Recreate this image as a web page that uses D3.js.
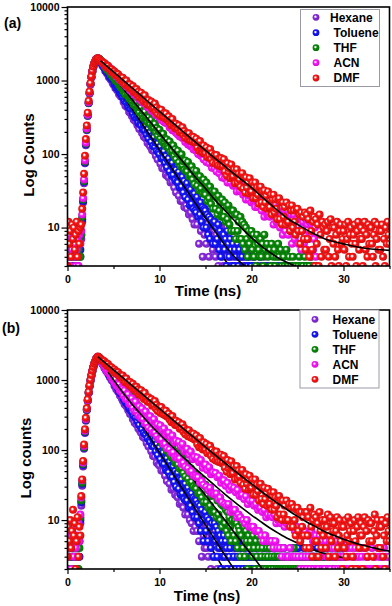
<!DOCTYPE html>
<html>
<head>
<meta charset="utf-8">
<script src="https://cdnjs.cloudflare.com/ajax/libs/d3/7.8.5/d3.min.js"></script>
<style>
  body { margin: 0; background: #fff; }
  svg { display: block; font-family: "Liberation Sans", Arial, sans-serif; font-weight: bold; }
</style>
</head>
<body>
<div id="wrapper"></div>
<script>
// TCSPC decays: one count per channel, channels start at t = 0
const channelNs = 0.1;

const solvents = ["Hexane", "Toluene", "THF", "ACN", "DMF"];
const solventColors = ["#8a2be2", "#1414ff", "#088a08", "#ff14ff", "#ff1414"];
const timeTicks = [0, 10, 20, 30];
const timeMinorTicks = [5, 15, 25, 35];
const countTicks = [10, 100, 1000, 10000];

// ---- panel (a) counts ----
const hexaneA = [
4, 2, 6, 3, 5, 2, 7, 3, 4, 5,
3, 6, 2, 5, 4, 7, 12, 22, 40, 75,
132, 210, 330, 490, 665, 880, 1105, 1320, 1515, 1680,
1785, 1912, 1948, 1990, 1932, 1879, 1751, 1712, 1590, 1561,
1519, 1352, 1398, 1245, 1248, 1110, 1148, 1033, 1057, 931,
881, 938, 794, 846, 738, 785, 652, 696, 607, 647,
629, 512, 562, 455, 526, 433, 458, 374, 429, 356,
329, 384, 293, 343, 280, 325, 247, 280, 219, 263,
258, 194, 229, 172, 216, 164, 184, 141, 175, 134,
127, 158, 113, 139, 109, 133, 95, 118, 84, 105,
107, 74, 94, 64, 91, 63, 76, 52, 76, 50,
48, 68, 41, 59, 42, 58, 35, 50, 30, 44,
46, 27, 40, 23, 38, 23, 31, 19, 33, 20,
18, 29, 15, 26, 16, 25, 13, 22, 11, 19,
19, 11, 17, 6, 16, 9, 14, 4, 13, 8,
13, 6, 11, 8, 4, 10, 7, 12, 5, 6,
9, 4, 8, 6, 3, 7, 5, 10, 4, 3,
6, 3, 5, 4, 2, 7, 3, 4, 1, 5,
4, 2, 3, 5, 1, 3, 4, 2, 6, 3,
3, 1, 4, 2, 3, 2, 5, 1, 3, 2,
2, 3, 1, 4, 2, 1, 3, 2, 2, 1,
3, 1, 2, 2, 4, 1, 2, 3, 1, 2,
1, 2, 3, 1, 2, 2, 1, 3, 2, 1,
2, 1, 1, 3, 2, 1, 2, 1, 3, 2,
1, 3, 2, 1, 1, 2, 3, 1, 2, 1,
2, 1, 2, 3, 1, 1, 2, 2, 1, 3,
1, 2, 1, 2, 3, 1, 1, 2, 2, 1,
2];
const tolueneA = [
3, 6, 2, 5, 4, 7, 3, 5, 2, 6,
4, 3, 7, 2, 5, 8, 13, 23, 42, 77,
136, 215, 335, 495, 672, 890, 1110, 1330, 1525, 1690,
1795, 1928, 1962, 2008, 1968, 1911, 1798, 1754, 1648, 1609,
1479, 1504, 1342, 1393, 1255, 1264, 1128, 1146, 1045, 1072,
1036, 898, 959, 805, 862, 762, 813, 683, 732, 634,
594, 661, 533, 595, 505, 560, 443, 495, 415, 462,
451, 356, 406, 319, 383, 306, 335, 265, 315, 255,
244, 288, 216, 251, 209, 244, 183, 216, 163, 190,
198, 146, 175, 129, 169, 125, 143, 110, 139, 106,
100, 126, 87, 110, 88, 109, 76, 94, 66, 83,
87, 58, 76, 51, 76, 52, 62, 44, 61, 42,
41, 57, 35, 49, 36, 49, 30, 43, 26, 37,
40, 24, 34, 20, 33, 21, 27, 18, 29, 17,
16, 26, 14, 22, 15, 22, 12, 19, 10, 18,
17, 10, 15, 8, 14, 7, 13, 11, 6, 12,
12, 6, 10, 7, 11, 5, 9, 4, 8, 6,
8, 5, 7, 3, 9, 6, 4, 7, 5, 3,
6, 3, 5, 4, 2, 6, 3, 5, 4, 2,
4, 2, 5, 3, 1, 4, 3, 2, 4, 3,
3, 2, 4, 1, 3, 2, 3, 1, 2, 4,
2, 1, 3, 2, 1, 3, 2, 2, 1, 3,
1, 2, 2, 3, 1, 2, 1, 3, 2, 1,
2, 3, 1, 2, 2, 1, 3, 1, 2, 2,
1, 2, 2, 1, 3, 2, 1, 2, 1, 3,
2, 1, 3, 2, 1, 2, 2, 1, 3, 1,
1, 2, 1, 3, 2, 1, 2, 2, 1, 2,
1];
const thfA = [
5, 3, 7, 4, 2, 6, 4, 8, 3, 5,
6, 2, 5, 7, 4, 8, 14, 24, 43, 79,
139, 218, 338, 498, 676, 895, 1115, 1335, 1530, 1695,
1801, 1925, 1970, 2011, 1985, 1944, 1850, 1812, 1718, 1690,
1664, 1512, 1534, 1393, 1457, 1324, 1317, 1208, 1250, 1137,
1087, 1147, 1001, 1058, 952, 1004, 868, 908, 800, 862,
847, 711, 766, 647, 741, 629, 652, 568, 631, 540,
522, 583, 470, 523, 462, 510, 412, 449, 371, 430,
428, 345, 384, 308, 377, 309, 320, 270, 315, 262,
254, 292, 226, 255, 228, 258, 198, 226, 178, 204,
214, 163, 190, 146, 189, 146, 161, 128, 158, 128,
121, 148, 108, 131, 110, 131, 95, 116, 85, 103,
111, 77, 97, 68, 99, 70, 80, 61, 82, 59,
58, 78, 50, 67, 52, 68, 45, 60, 39, 53,
59, 37, 50, 32, 50, 34, 41, 29, 45, 29,
28, 41, 23, 35, 25, 36, 21, 31, 18, 30,
31, 18, 26, 15, 27, 17, 22, 14, 24, 14,
14, 22, 12, 19, 13, 20, 11, 17, 9, 17,
17, 9, 15, 7, 15, 9, 12, 7, 14, 7,
12, 6, 11, 5, 10, 7, 4, 9, 6, 8,
9, 5, 8, 4, 7, 3, 8, 6, 5, 4,
7, 4, 6, 3, 8, 5, 2, 6, 4, 5,
5, 3, 6, 2, 4, 5, 3, 4, 2, 6,
4, 2, 5, 3, 1, 4, 3, 2, 5, 3,
3, 4, 2, 3, 1, 4, 2, 3, 3, 2,
2, 3, 4, 1, 3, 2, 3, 2, 4, 1,
3, 2, 1, 3, 2, 4, 2, 1, 3, 2,
3];
const acnA = [
6, 4, 8, 3, 7, 5, 9, 4, 6, 3,
5, 7, 3, 8, 6, 9, 15, 25, 45, 82,
142, 222, 342, 505, 682, 900, 1120, 1340, 1535, 1700,
1806, 1930, 1968, 2007, 1950, 1898, 1850, 1812, 1752, 1712,
1623, 1679, 1525, 1579, 1463, 1529, 1403, 1410, 1306, 1365,
1344, 1209, 1264, 1135, 1223, 1101, 1128, 1013, 1092, 982,
937, 1021, 881, 960, 827, 929, 811, 857, 738, 822,
809, 690, 775, 641, 715, 629, 705, 571, 639, 555,
536, 603, 497, 584, 489, 533, 444, 522, 431, 477,
469, 390, 459, 379, 386, 416, 339, 399, 337, 343,
313, 357, 291, 313, 327, 272, 317, 264, 266, 285,
283, 230, 240, 265, 211, 244, 208, 242, 195, 203,
185, 212, 173, 186, 201, 165, 167, 183, 146, 162,
168, 135, 146, 161, 128, 131, 146, 115, 131, 115,
111, 130, 100, 113, 118, 95, 101, 113, 85, 99,
105, 78, 90, 100, 75, 86, 88, 65, 74, 84,
64, 81, 58, 70, 78, 55, 62, 68, 48, 61,
66, 47, 55, 64, 41, 49, 55, 41, 49, 54,
37, 50, 38, 51, 31, 42, 46, 32, 36, 44,
40, 28, 33, 42, 24, 32, 37, 24, 27, 36,
22, 30, 23, 33, 19, 25, 31, 19, 22, 27,
27, 17, 20, 27, 14, 21, 24, 15, 16, 24,
14, 20, 15, 22, 11, 16, 21, 12, 14, 18,
19, 10, 14, 19, 8, 14, 17, 9, 11, 17,
8, 15, 10, 15, 6, 11, 15, 7, 9, 13,
13, 6, 9, 14, 5, 10, 12, 6, 8, 13,
5, 11, 7, 12, 4, 8, 11, 5, 7, 10,
4];
const dmfA = [
3, 12, 6, 9, 4, 11, 7, 10, 5, 8,
12, 4, 9, 6, 10, 11, 18, 30, 54, 95,
160, 245, 365, 530, 710, 925, 1140, 1355, 1550, 1710,
1812, 1936, 1971, 2015, 1970, 1893, 1872, 1800, 1781, 1710,
1732, 1592, 1632, 1499, 1583, 1455, 1462, 1356, 1418, 1304,
1272, 1330, 1186, 1254, 1163, 1216, 1084, 1123, 1020, 1090,
1094, 937, 1002, 873, 999, 867, 889, 799, 887, 776,
757, 840, 698, 762, 700, 767, 639, 704, 594, 650,
684, 565, 616, 514, 631, 527, 540, 470, 545, 467,
461, 517, 416, 465, 427, 485, 380, 428, 350, 396,
402, 329, 401, 341, 316, 362, 306, 356, 295, 300,
326, 269, 293, 245, 300, 251, 258, 224, 259, 223,
220, 246, 198, 221, 204, 232, 182, 205, 167, 189,
192, 158, 192, 164, 151, 173, 147, 171, 142, 144,
162, 122, 145, 111, 150, 117, 127, 103, 131, 104,
103, 123, 91, 110, 96, 117, 85, 102, 76, 93,
97, 73, 97, 76, 70, 87, 68, 88, 67, 69,
85, 58, 73, 51, 75, 57, 64, 47, 72, 50,
50, 62, 40, 56, 62, 41, 54, 45, 36, 53,
55, 34, 47, 30, 48, 35, 41, 29, 47, 31,
31, 41, 25, 36, 41, 25, 35, 28, 21, 35,
36, 22, 31, 19, 32, 22, 27, 18, 31, 19,
19, 28, 15, 24, 28, 16, 24, 18, 13, 24,
25, 13, 22, 11, 22, 14, 19, 11, 22, 12,
12, 20, 9, 17, 20, 10, 17, 12, 8, 17,
18, 9, 15, 6, 16, 9, 14, 7, 16, 5,
15, 7, 13, 4, 17, 9, 5, 12, 14, 3,
13, 6, 11, 3, 15, 8, 4, 12, 10, 5,
11, 5, 9, 12, 4, 7, 13, 3, 10, 6,
10, 4, 8, 12, 5, 3, 9, 11, 6, 7,
9, 5, 11, 3, 7, 12, 4, 8, 10, 6,
4, 8, 11, 6, 3, 9, 12, 5, 7, 10,
7, 3, 9, 12, 5, 8, 4, 11, 6, 10,
10, 6, 4, 8, 12, 3, 7, 11, 5, 9,
5, 9, 11, 4, 7, 3, 10, 6, 12, 8,
6];

// ---- panel (a) fitted decays [t, counts] ----
const hexaneFitA = [[3.6,1780],[5,930],[6,585],[7,367],[8,232],[9,146],[10,92],[11,58],[12,36],[13,23],[14,14.5],[15,9],[16,5.8],[17,3.8],[18,2.6]];
const tolueneFitA = [[3.6,1810],[5,990],[6,640],[7,415],[8,270],[9,176],[10,114],[11,74],[12,48],[13,31.5],[14,20.5],[15,13.5],[16,9],[17,6],[18,4.2],[19,3.2],[20,2.6]];
const thfFitA = [[3.6,1868],[5,1132],[6,792],[7,555],[8,389],[9,273],[10,191],[11,135],[12,95],[13,67],[14,47],[15,34],[16,24],[17,17.6],[18,13],[19,9.6],[20,7.3],[21,5.7],[22,4.6],[23,3.8],[24,3.3],[25,2.9]];
const acnFitA = [[3.6,1860],[5,1292],[6,997],[7,770],[8,595],[9,460],[10,356],[11,275],[12,213],[13,166]];
const dmfFitA = [[3.6,1860],[4,1683],[5,1312],[6,1022],[7,797],[8,622],[9,486],[10,379],[11,296],[12,232],[13,181],[14,142],[15,112],[16,88],[17,70],[18,55],[19,44],[20,35],[21,27],[22,21],[23,16.5],[24,13],[25,11],[26,9.3],[27,8],[28,7],[29,6.4],[30,6],[31,5.6],[32,5.3],[33,5.1],[34,5],[35,4.9]];

// ---- panel (b) counts ----
const hexaneB = [
3, 2, 5, 2, 4, 3, 6, 2, 3, 4,
2, 4, 3, 5, 9, 16, 31, 58, 104, 175,
262, 370, 500, 650, 810, 980, 1150, 1330, 1510, 1680,
1815, 1973, 2048, 2131, 2085, 2010, 1880, 1818, 1695, 1641,
1499, 1527, 1340, 1365, 1235, 1257, 1092, 1124, 996, 1005,
972, 827, 887, 739, 793, 681, 729, 603, 652, 550,
511, 576, 452, 509, 421, 473, 371, 411, 328, 379,
370, 278, 325, 246, 304, 232, 260, 203, 243, 187,
176, 217, 154, 189, 147, 180, 126, 157, 112, 137,
139, 96, 122, 82, 118, 80, 96, 66, 94, 62,
60, 84, 51, 72, 50, 70, 43, 60, 36, 55,
55, 33, 46, 27, 45, 28, 36, 23, 38, 22,
21, 33, 17, 28, 18, 27, 15, 24, 12, 22,
21, 12, 19, 10, 17, 9, 15, 7, 14, 8,
14, 7, 12, 5, 11, 8, 3, 10, 6, 4,
9, 4, 8, 3, 7, 5, 2, 6, 3, 5,
6, 3, 5, 2, 4, 3, 7, 2, 4, 3,
4, 2, 3, 5, 2, 3, 1, 4, 2, 3,
3, 2, 3, 3, 4, 2, 3, 1, 3, 2,
2, 3, 3, 2, 3, 3, 1, 2, 4, 3,
3, 2, 3, 2, 1, 3, 3, 2, 3, 2,
2, 3, 2, 3, 3, 2, 1, 3, 2, 3,
3, 2, 2, 3, 2, 3, 3, 1, 2, 3,
2, 3, 3, 1, 2, 3, 2, 3, 3, 2,
3, 2, 3, 2, 3, 1, 3, 2, 2, 3,
2, 3, 1, 3, 2, 3, 3, 2, 3, 2,
3, 2, 3, 2, 3, 2, 1, 3, 2, 3,
2, 3, 2, 3, 1, 3, 2, 3, 3, 2,
3, 2, 3, 3, 2, 2, 3, 1, 3, 2,
2, 3, 2, 3, 3, 2, 3, 2, 1, 3,
3];
const tolueneB = [
2, 4, 3, 2, 5, 3, 2, 4, 6, 3,
4, 2, 5, 3, 10, 18, 33, 61, 108, 180,
268, 376, 508, 658, 818, 988, 1158, 1338, 1518, 1688,
1822, 1978, 2052, 2136, 2107, 2040, 1912, 1858, 1735, 1690,
1643, 1460, 1508, 1342, 1345, 1194, 1247, 1109, 1123, 998,
941, 1002, 847, 903, 787, 836, 693, 747, 643, 685,
665, 541, 594, 481, 556, 452, 486, 393, 450, 370,
349, 406, 307, 360, 292, 338, 256, 294, 228, 275,
268, 198, 237, 176, 226, 167, 191, 147, 181, 137,
130, 163, 114, 143, 111, 138, 96, 120, 85, 105,
109, 74, 95, 65, 92, 63, 76, 52, 76, 50,
48, 68, 42, 59, 41, 58, 35, 50, 30, 46,
47, 28, 39, 23, 38, 24, 31, 20, 33, 19,
19, 29, 15, 25, 16, 24, 13, 21, 11, 20,
19, 11, 17, 9, 16, 7, 14, 10, 5, 12,
13, 7, 11, 5, 10, 8, 4, 9, 6, 3,
9, 5, 8, 3, 7, 4, 6, 2, 5, 3,
6, 3, 5, 4, 2, 6, 3, 4, 5, 2,
5, 3, 4, 2, 4, 3, 5, 2, 3, 4,
4, 2, 3, 4, 3, 2, 5, 3, 2, 3,
3, 4, 2, 3, 2, 4, 3, 2, 3, 2,
2, 3, 3, 2, 4, 2, 3, 3, 2, 3,
3, 2, 4, 2, 3, 3, 2, 3, 4, 2,
2, 3, 2, 3, 2, 4, 3, 2, 3, 3,
3, 2, 3, 4, 2, 3, 2, 3, 2, 4,
2, 4, 3, 2, 3, 2, 3, 4, 2, 3,
3, 2, 2, 3, 4, 3, 2, 2, 3, 2,
2, 3, 4, 2, 3, 2, 3, 2, 4, 3,
4, 2, 3, 3, 2, 4, 2, 3, 2, 3,
2, 3, 2, 4, 3, 2, 3, 3, 2, 4,
3];
const thfB = [
4, 2, 3, 5, 2, 6, 3, 4, 2, 5,
3, 5, 2, 4, 11, 19, 34, 63, 110, 184,
272, 380, 512, 662, 822, 992, 1162, 1342, 1522, 1692,
1826, 1980, 2055, 2140, 2108, 2058, 1946, 1905, 1797, 1762,
1627, 1660, 1488, 1551, 1405, 1406, 1285, 1313, 1177, 1226,
1191, 1036, 1111, 948, 1017, 895, 959, 802, 870, 757,
713, 803, 645, 730, 617, 693, 545, 618, 516, 582,
571, 449, 518, 406, 497, 389, 435, 343, 417, 329,
312, 382, 283, 343, 273, 329, 245, 291, 221, 277,
271, 199, 242, 178, 237, 174, 201, 154, 195, 147,
139, 181, 126, 161, 122, 157, 109, 140, 97, 125,
130, 88, 116, 78, 113, 78, 96, 66, 93, 65,
62, 88, 54, 77, 55, 77, 47, 67, 42, 63,
64, 39, 55, 34, 55, 35, 46, 30, 47, 29,
28, 43, 24, 38, 24, 38, 21, 33, 18, 31,
32, 18, 27, 15, 27, 16, 22, 13, 24, 13,
13, 22, 11, 19, 12, 19, 10, 17, 8, 16,
16, 9, 14, 7, 13, 6, 11, 8, 5, 10,
12, 6, 10, 5, 9, 4, 8, 7, 3, 6,
9, 4, 8, 3, 7, 5, 2, 6, 4, 5,
7, 3, 6, 4, 2, 5, 3, 6, 4, 2,
5, 3, 4, 2, 6, 3, 2, 4, 3, 2,
4, 2, 3, 5, 2, 3, 4, 2, 3, 2,
3, 2, 4, 2, 3, 2, 3, 2, 2, 3,
2, 3, 2, 2, 3, 2, 4, 2, 3, 2,
3, 2, 2, 3, 2, 3, 2, 2, 3, 2,
2, 2, 3, 2, 2, 3, 2, 3, 2, 2,
2, 3, 2, 2, 3, 2, 2, 3, 2, 3,
3, 2, 2, 3, 2, 2, 3, 2, 2, 2,
2, 2, 3, 2, 3, 2, 2, 2, 3, 2,
2];
const acnB = [
5, 3, 7, 4, 2, 6, 8, 3, 5, 4,
6, 3, 9, 5, 12, 21, 37, 66, 114, 188,
276, 385, 516, 666, 826, 996, 1166, 1346, 1526, 1696,
1830, 1985, 2060, 2145, 2090, 2021, 1890, 1837, 1712, 1670,
1624, 1463, 1500, 1323, 1344, 1235, 1265, 1117, 1134, 1011,
1067, 918, 1012, 837, 897, 795, 866, 702, 776, 667,
747, 597, 711, 541, 619, 524, 627, 460, 541, 446,
547, 400, 485, 361, 491, 356, 406, 311, 420, 299,
286, 391, 276, 342, 242, 354, 237, 292, 209, 305,
304, 196, 259, 176, 276, 177, 220, 159, 233, 143,
144, 225, 142, 193, 122, 203, 123, 163, 106, 173,
177, 102, 151, 91, 161, 93, 128, 79, 136, 79,
75, 131, 76, 113, 63, 122, 66, 96, 58, 101,
104, 55, 86, 49, 95, 50, 74, 43, 80, 43,
41, 78, 41, 67, 34, 72, 36, 56, 32, 61,
62, 30, 52, 27, 57, 29, 45, 24, 48, 24,
23, 47, 24, 41, 20, 43, 21, 34, 18, 37,
37, 17, 31, 16, 34, 17, 27, 13, 30, 14,
14, 29, 14, 25, 11, 27, 12, 22, 11, 23,
23, 10, 20, 9, 22, 10, 17, 8, 19, 8,
8, 19, 8, 16, 7, 17, 7, 14, 7, 15,
15, 6, 13, 5, 14, 6, 11, 5, 12, 5,
5, 12, 5, 11, 4, 12, 5, 9, 4, 10,
10, 4, 9, 3, 10, 4, 8, 3, 9, 3,
3, 9, 4, 8, 3, 9, 3, 7, 3, 8,
7, 3, 6, 2, 7, 3, 6, 2, 7, 3,
2, 6, 3, 6, 2, 7, 3, 5, 2, 6,
6, 2, 5, 2, 6, 3, 5, 2, 6, 2,
2, 5, 3, 4, 2, 5, 2, 4, 3, 5,
4, 2, 5, 3, 2, 4, 3, 2, 5, 3,
3, 2, 4, 2, 3, 4, 2, 3, 2, 4,
2, 3, 3, 4, 2, 3, 2, 3, 2, 4,
3, 2, 4, 2, 3, 2, 3, 3, 2, 2,
2, 4, 2, 3, 2, 3, 2, 2, 4, 3,
3, 2, 3, 2, 4, 2, 3, 2, 3, 2,
3];
const dmfB = [
3, 8, 5, 10, 4, 7, 14, 6, 9, 2,
5, 11, 3, 8, 6, 22, 38, 70, 120, 198,
288, 398, 530, 680, 840, 1010, 1180, 1360, 1540, 1710,
1843, 1998, 2075, 2162, 2090, 2066, 1985, 1964, 1884, 1870,
1858, 1706, 1748, 1604, 1694, 1556, 1563, 1449, 1515, 1391,
1341, 1416, 1262, 1333, 1224, 1292, 1151, 1192, 1082, 1154,
1157, 991, 1058, 921, 1054, 913, 937, 841, 934, 816,
795, 882, 732, 799, 733, 803, 669, 736, 622, 678,
713, 588, 641, 535, 656, 548, 563, 489, 566, 485,
477, 534, 430, 480, 440, 501, 392, 442, 361, 408,
413, 338, 411, 350, 324, 370, 314, 365, 302, 306,
332, 274, 298, 249, 306, 255, 262, 228, 263, 226,
223, 249, 201, 224, 205, 233, 183, 206, 168, 190,
193, 158, 192, 164, 151, 173, 147, 171, 141, 143,
161, 121, 144, 110, 148, 116, 125, 102, 129, 103,
101, 122, 90, 108, 95, 115, 83, 101, 75, 91,
95, 71, 95, 74, 68, 85, 67, 86, 65, 67,
82, 56, 70, 49, 72, 55, 61, 45, 69, 47,
47, 59, 38, 53, 59, 39, 51, 42, 34, 49,
52, 32, 44, 28, 45, 33, 38, 27, 43, 28,
29, 38, 23, 33, 38, 23, 32, 26, 19, 32,
33, 20, 29, 17, 29, 20, 24, 16, 28, 17,
17, 25, 14, 22, 25, 14, 21, 16, 11, 21,
22, 12, 19, 10, 19, 12, 16, 10, 19, 10,
10, 17, 8, 15, 17, 8, 15, 10, 6, 14,
15, 7, 13, 5, 13, 8, 11, 6, 13, 4,
13, 6, 11, 4, 15, 8, 3, 10, 12, 5,
11, 5, 9, 3, 13, 7, 4, 10, 6, 8,
10, 4, 8, 12, 3, 6, 11, 5, 9, 7,
9, 3, 7, 11, 4, 6, 10, 5, 8, 2,
8, 4, 10, 3, 6, 11, 5, 7, 9, 2,
3, 7, 10, 5, 2, 8, 11, 4, 6, 9,
6, 2, 8, 11, 4, 7, 3, 10, 5, 9,
9, 5, 3, 7, 12, 2, 6, 10, 4, 8,
4, 8, 10, 3, 6, 2, 9, 5, 11, 7,
5];

// ---- panel (b) fitted decays [t, counts] ----
const hexaneFitB = [[3.6,1900],[5,925],[6,556],[7,333],[8,200],[9,120],[10,72],[11,43],[12,26],[13,15.5],[14,9.3],[15,5.5],[16,3.3],[17,2.0],[17.5,1.6]];
const tolueneFitB = [[3.6,1930],[5,990],[6,615],[7,382],[8,238],[9,148],[10,92],[11,57],[12,35.5],[13,22],[14,13.7],[15,8.5],[16,5.3],[17,3.3],[18,2.1],[19,1.5]];
const thfFitB = [[3.6,1960],[5,1134],[6,767],[7,519],[8,351],[9,238],[10,161],[11,109],[12,73.5],[13,49.5],[14,33.5],[15,22.6],[16,15.3],[17,10.4],[18,7],[19,4.7],[20,3.2],[21,2.15],[22,1.5]];
const acnFitB = [[4.4,1312],[5,1007],[6,667],[7,456],[8,321],[9,230],[10,168],[11,125],[12,93],[13,70],[14,53],[15,40.7],[16,31.3],[17,24.1],[18,18.8],[19,14.8],[20,11.8],[21,9.5],[22,7.7],[23,6.4],[24,5.4],[25,4.7],[26,4.1],[27,3.65],[28,3.3],[29,3.1],[30,2.9],[31,2.75]];
const dmfFitB = [[3.3,2150],[4,1804],[5,1397],[6,1081],[7,837],[8,649],[9,503],[10,390],[11,302],[12,234.5],[13,182],[14,141.6],[15,110],[16,86],[17,67],[18,52.7],[19,41.5],[20,32.8],[21,26],[22,20.8],[23,16.8],[24,13.7],[25,11.3],[26,9.4],[27,8],[28,6.8],[29,6],[30,5.3],[31,4.8],[32,4.4],[33,4.1],[34,3.8],[35,3.6]];

// 1. Canvas
const width = 392, height = 606;
const svg = d3.select("#wrapper").append("svg")
  .attr("width", width)
  .attr("height", height);

// glossy ball markers, one gradient per solvent
const defs = svg.append("defs");
solventColors.forEach((c, i) => {
  const g = defs.append("radialGradient")
    .attr("id", `ball-${i}`)
    .attr("cx", "45%").attr("cy", "45%").attr("r", "60%")
    .attr("fx", "40%").attr("fy", "40%");
  g.append("stop").attr("offset", "0%").attr("stop-color", "#fff");
  g.append("stop").attr("offset", "12%").attr("stop-color", "#fff");
  g.append("stop").attr("offset", "40%").attr("stop-color", c);
  g.append("stop").attr("offset", "100%").attr("stop-color", d3.color(c).darker(0.7));
});

const panels = [
  {
    key: "a", letter: "(a)", letterX: 4, letterY: 28,
    top: 7, bottom: 266, left: 67.5, right: 389.5,
    yDomain: [3, 10000], yTitle: "Log Counts", yTitleX: 34, yTitleY: 155,
    xTitleX: 208, xTitleY: 296,
    counts: [hexaneA, tolueneA, thfA, acnA, dmfA],
    fits: [hexaneFitA, tolueneFitA, thfFitA, acnFitA, dmfFitA],
    legend: { x: 300.5, y: 9.5, w: 79, h: 77, markX: 316, textX: [330, 333.5, 333.5, 333.5, 333.5], rowY: [17.3, 32.7, 47.7, 62.7, 78] }
  },
  {
    key: "b", letter: "(b)", letterX: 2, letterY: 333,
    top: 310, bottom: 569, left: 67.5, right: 389.5,
    yDomain: [2, 10000], yTitle: "Log counts", yTitleX: 31, yTitleY: 458,
    xTitleX: 207, xTitleY: 601,
    counts: [hexaneB, tolueneB, thfB, acnB, dmfB],
    fits: [hexaneFitB, tolueneFitB, thfFitB, acnFitB, dmfFitB],
    legend: { x: 300, y: 310, w: 79, h: 78, markX: 315, textX: [332.5, 332.5, 332.5, 332.5, 332.5], rowY: [319.3, 334.3, 349.3, 364.3, 379.3] }
  }
];

panels.forEach(p => drawPanel(p));

function drawPanel(p) {
  // 2. Scales
  const xScale = d3.scaleLinear().domain([0, 35]).range([p.left, p.right]);
  const yScale = d3.scaleLog().domain(p.yDomain).range([p.bottom, p.top]);

  defs.append("clipPath").attr("id", `clip-${p.key}`)
    .append("rect")
      .attr("x", p.left).attr("y", p.top)
      .attr("width", p.right - p.left).attr("height", p.bottom - p.top);

  const plot = svg.append("g").attr("clip-path", `url(#clip-${p.key})`);

  const line = d3.line()
    .x(d => xScale(d[0]))
    .y(d => yScale(d[1]))
    .curve(d3.curveMonotoneX);

  // 3. Data: each solvent's points, then its fit on top
  p.counts.forEach((counts, i) => {
    const pts = counts.map((c, k) => [k * channelNs, c]);
    plot.append("g")
      .selectAll("circle")
      .data(pts)
      .join("circle")
        .attr("cx", d => xScale(d[0]))
        .attr("cy", d => yScale(d[1]))
        .attr("r", 4)
        .attr("fill", `url(#ball-${i})`);

    plot.append("path")
      .datum(p.fits[i])
      .attr("fill", "none")
      .attr("stroke", "#000")
      .attr("stroke-width", 1.6)
      .attr("d", line);
  });

  // 4. Axes
  svg.append("g")
    .attr("transform", `translate(0,${p.bottom})`)
    .call(d3.axisBottom(xScale).tickValues(timeTicks).tickSize(5).tickPadding(5).tickFormat(d3.format("d")));
  svg.append("g")
    .attr("transform", `translate(0,${p.bottom})`)
    .call(d3.axisBottom(xScale).tickValues(timeMinorTicks).tickSize(3).tickFormat(""));

  svg.append("g")
    .attr("transform", `translate(${p.left},0)`)
    .call(d3.axisLeft(yScale).tickValues(countTicks).tickSize(6).tickPadding(2).tickFormat(d3.format("d")));
  const minor = yScale.ticks().filter(v => !countTicks.includes(v));
  svg.append("g")
    .attr("transform", `translate(${p.left},0)`)
    .call(d3.axisLeft(yScale).tickValues(minor).tickSize(3).tickFormat(""));

  svg.selectAll(".domain").remove();
  svg.selectAll(".tick line").attr("stroke", "#000").attr("stroke-width", 1.2);
  svg.selectAll(".tick text")
    .attr("fill", "#000")
    .style("font-size", "10.5px")
    .style("font-weight", "bold")
    .style("font-family", "Liberation Sans, Arial, sans-serif");

  // frame
  svg.append("rect")
    .attr("x", p.left).attr("y", p.top)
    .attr("width", p.right - p.left).attr("height", p.bottom - p.top)
    .attr("fill", "none")
    .attr("stroke", "#000")
    .attr("stroke-width", 1.6);

  // 5. Titles
  svg.append("text")
    .attr("x", p.xTitleX).attr("y", p.xTitleY)
    .attr("text-anchor", "middle")
    .style("font-size", "15px")
    .text("Time (ns)");

  svg.append("text")
    .attr("transform", `translate(${p.yTitleX},${p.yTitleY}) rotate(-90)`)
    .attr("text-anchor", "middle")
    .style("font-size", "15px")
    .text(p.yTitle);

  svg.append("text")
    .attr("x", p.letterX).attr("y", p.letterY)
    .style("font-size", "14px")
    .text(p.letter);

  // 6. Legend
  const lg = p.legend;
  svg.append("rect")
    .attr("x", lg.x).attr("y", lg.y)
    .attr("width", lg.w).attr("height", lg.h)
    .attr("fill", "#fff")
    .attr("stroke", "#9a9aa6")
    .attr("stroke-width", 1);

  solvents.forEach((name, i) => {
    svg.append("circle")
      .attr("cx", lg.markX).attr("cy", lg.rowY[i])
      .attr("r", 3.4)
      .attr("fill", `url(#ball-${i})`);
    svg.append("text")
      .attr("x", lg.textX[i]).attr("y", lg.rowY[i])
      .attr("dy", "0.36em")
      .style("font-size", "12px")
      .text(name);
  });
}
</script>
</body>
</html>
